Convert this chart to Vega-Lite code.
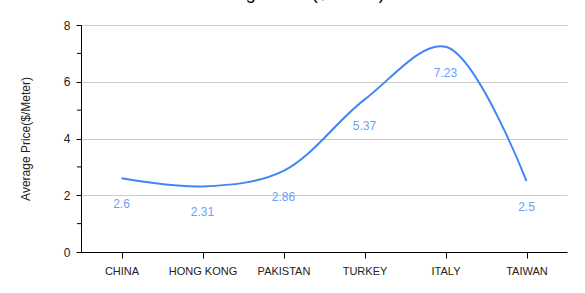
{
  "$schema": "https://vega.github.io/schema/vega-lite/v6.json",
  "autosize": {"type": "none"},
  "width": 486,
  "height": 227,
  "padding": {"left": 81, "top": 25, "right": 18, "bottom": 41},
  "background": "white",
  "title": {"text": "Average Price($/Meter)", "fontSize": 18, "font": "Liberation Sans", "fontWeight": "normal", "color": "#000000", "anchor": "middle", "frame": "group", "dx": -32, "offset": 16},
  "config": {"view": {"stroke": null}, "font": "Liberation Sans"},
  "data": {"values": [
    {"country": "CHINA", "price": 2.6},
    {"country": "HONG KONG", "price": 2.31},
    {"country": "PAKISTAN", "price": 2.86},
    {"country": "TURKEY", "price": 5.37},
    {"country": "ITALY", "price": 7.23},
    {"country": "TAIWAN", "price": 2.5}
  ]},
  "encoding": {
    "x": {"field": "country", "type": "ordinal", "sort": null, "scale": {"type": "point", "padding": 0.5},
      "axis": {"title": null, "labelAngle": 0, "labelFontSize": 11, "labelColor": "#222222", "domainColor": "#000000", "tickColor": "#000000", "tickSize": 6, "labelPadding": 7, "grid": false}},
    "y": {"field": "price", "type": "quantitative", "scale": {"domain": [0, 8], "nice": false},
      "axis": {"title": "Average Price($/Meter)", "titleFontSize": 12, "titleFontWeight": "normal", "titleColor": "#222222", "titlePadding": 31, "values": [0, 2, 4, 6, 8], "labelFontSize": 12, "labelColor": "#222222", "domainColor": "#000000", "tickColor": "#000000", "tickSize": 5, "labelPadding": 6, "gridColor": "#cccccc", "tickCount": 8}}
  },
  "layer": [
    {"mark": {"type": "rule", "stroke": "#000000"}, "data": {"values": [{"v": 1}, {"v": 3}, {"v": 5}, {"v": 7}]}, "encoding": {"y": {"field": "v", "type": "quantitative"}, "x": {"value": -4}, "x2": {"value": 0}}},
    {"mark": {"type": "line", "interpolate": "catmull-rom", "color": "#4285f4", "strokeWidth": 2}},
    {"mark": {"type": "text", "dy": 26, "fontSize": 12, "color": "#6d9ef5"}, "encoding": {"text": {"field": "price", "type": "quantitative"}}}
  ]
}
